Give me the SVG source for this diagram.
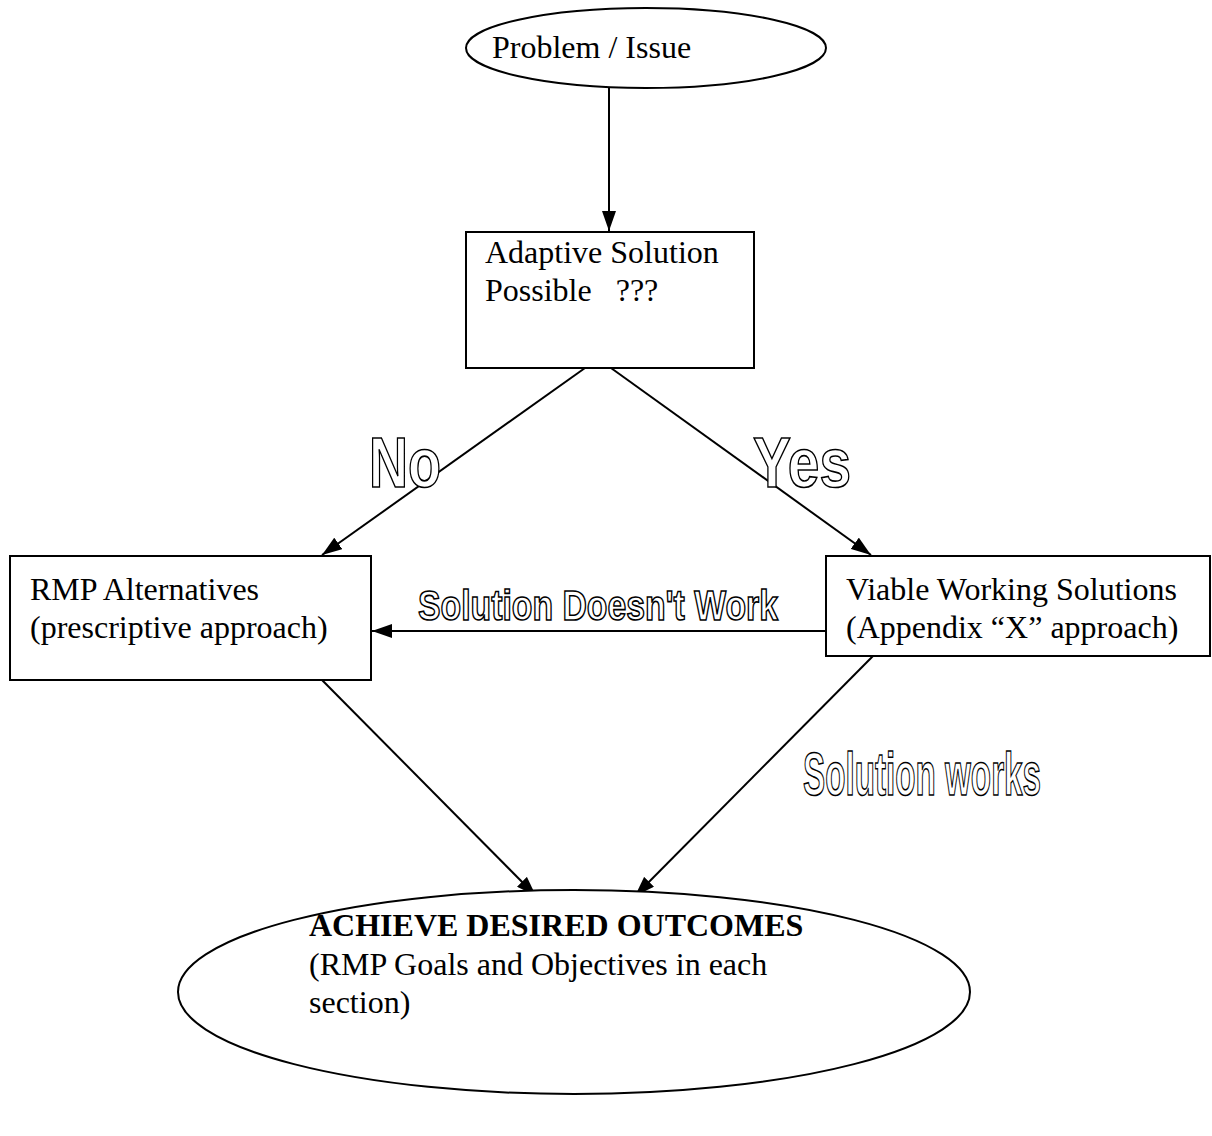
<svg xmlns="http://www.w3.org/2000/svg" width="1212" height="1136" viewBox="0 0 1212 1136">
<defs>
<marker id="ah" viewBox="0 0 20 14" refX="20" refY="7" markerWidth="20" markerHeight="14" markerUnits="userSpaceOnUse" orient="auto">
<path d="M0,0 L20,7 L0,14 Z" fill="#000"/>
</marker>
</defs>
<style>
.shape{fill:#fff;stroke:#000;stroke-width:2}
.t{font-family:"Liberation Serif","Times New Roman",serif;font-size:32px;fill:#000}
.b{font-weight:bold}
.o{font-family:"Liberation Sans",Arial,sans-serif;font-weight:bold;fill:#fff;stroke:#000;stroke-width:1.6}
.c{fill:none;stroke:#000;stroke-width:2;marker-end:url(#ah)}
</style>
<rect width="1212" height="1136" fill="#fff"/>
<g id="connectors">
<line class="c" x1="609" y1="88" x2="609" y2="231"/>
<line class="c" x1="585" y1="368" x2="322" y2="555"/>
<line class="c" x1="611" y1="368" x2="871" y2="555"/>
<line class="c" x1="826" y1="631" x2="372" y2="631"/>
<line class="c" x1="322" y1="680" x2="536" y2="896"/>
<line class="c" x1="873" y1="656" x2="635" y2="896"/>
</g>
<g id="problem">
<ellipse class="shape" cx="646" cy="48" rx="180" ry="40"/>
<text class="t" x="492" y="58">Problem / Issue</text>
</g>
<g id="adaptive">
<rect class="shape" x="466" y="232" width="288" height="136"/>
<text class="t" x="485" y="263">Adaptive Solution</text>
<text class="t" x="485" y="301" xml:space="preserve">Possible   ???</text>
</g>
<g id="rmp">
<rect class="shape" x="10" y="556" width="361" height="124"/>
<text class="t" x="30" y="600">RMP Alternatives</text>
<text class="t" x="30" y="638">(prescriptive approach)</text>
</g>
<g id="viable">
<rect class="shape" x="826" y="556" width="384" height="100"/>
<text class="t" x="846" y="600">Viable Working Solutions</text>
<text class="t" x="846" y="638">(Appendix “X” approach)</text>
</g>
<g id="outcomes">
<ellipse class="shape" cx="574" cy="992" rx="396" ry="102"/>
<text class="t b" x="309" y="936">ACHIEVE DESIRED OUTCOMES</text>
<text class="t" x="309" y="975">(RMP Goals and Objectives in each</text>
<text class="t" x="309" y="1013">section)</text>
</g>
<g id="labels">
<text class="o" x="369" y="487" font-size="70" textLength="72" lengthAdjust="spacingAndGlyphs">No</text>
<text class="o" x="753" y="487" font-size="70" textLength="98" lengthAdjust="spacingAndGlyphs">Yes</text>
<text class="o" x="418" y="620" font-size="42" textLength="360" lengthAdjust="spacingAndGlyphs">Solution Doesn't Work</text>
<text class="o" x="803" y="795" font-size="62" textLength="238" lengthAdjust="spacingAndGlyphs">Solution works</text>
</g>
</svg>
